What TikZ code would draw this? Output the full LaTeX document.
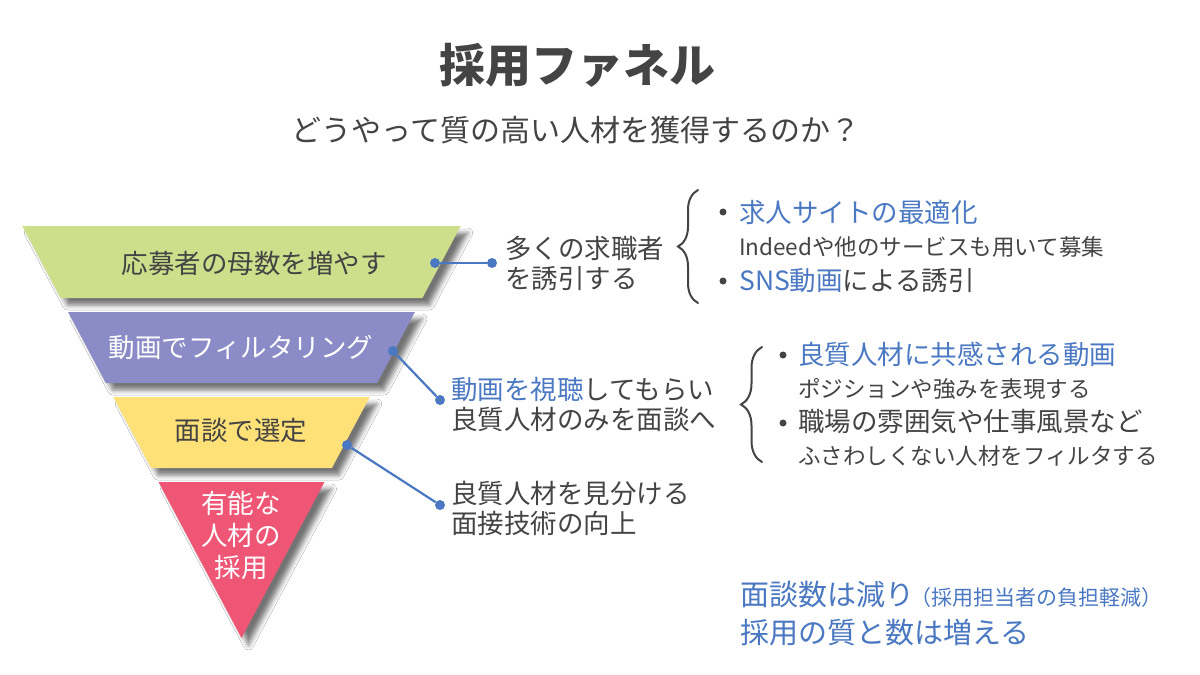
\documentclass[tikz,border=0pt]{standalone}
\usepackage{fontspec}
\setmainfont{Noto Sans CJK JP}
\usetikzlibrary{shadows.blur,decorations.pathreplacing}
\definecolor{textgray}{HTML}{444444}
\definecolor{accent}{HTML}{4A78C2}
\definecolor{layerA}{HTML}{CEDF8C}
\definecolor{layerB}{HTML}{8B8CC7}
\definecolor{layerC}{HTML}{FFE177}
\definecolor{layerD}{HTML}{EF5675}

\begin{document}
\begin{tikzpicture}[x=1pt, y=-1pt,
    layer/.style={blur shadow={shadow xshift=7pt, shadow yshift=-7pt,
        shadow blur radius=5pt, shadow opacity=55}},
    layertext/.style={inner sep=0, text=textgray,
        font=\fontsize{26.5}{32}\selectfont},
    body/.style={inner sep=0, anchor=west, align=left, text=textgray,
        font=\fontsize{26.5}{30}\selectfont},
    head/.style={inner sep=0, anchor=west, text=textgray,
        font=\fontsize{26.5}{30}\selectfont},
    sub/.style={inner sep=0, anchor=west, text=textgray,
        font=\fontsize{22.5}{26}\selectfont},
    bul/.style={circle, fill=textgray, inner sep=0, minimum size=7pt},
    dot/.style={circle, fill=accent, inner sep=0, minimum size=10pt},
    link/.style={draw=accent, line width=2.2pt},
    brc/.style={draw=textgray, line width=2pt, line cap=round,
        decorate, decoration={brace, amplitude=#1}}]
        \fill[white] (0,0) rectangle (1200,675);
        \useasboundingbox (0,0) rectangle (1200,675);

        \node[text=textgray, font=\fontsize{46}{50}\selectfont\bfseries]
          (title) at (577,65) {採用ファネル};
        \node[text=textgray, font=\fontsize{30}{34}\selectfont]
          (subtitle) at (576,130) {どうやって質の高い人材を獲得するのか？};

        \fill[layerA, layer] (22.3,226) -- (460.7,226) -- (422.4,298)
        -- (60.6,298) -- cycle;
        \fill[layerB, layer] (68.1,312) -- (414.9,312) -- (377.2,383)
        -- (105.8,383) -- cycle;
        \fill[layerC, layer] (113.3,397) -- (369.7,397) -- (331.9,468)
        -- (151.1,468) -- cycle;
        \fill[layerD, layer] (158.5,482) -- (324.5,482) -- (241.5,638)
        -- cycle;

        \node[layertext] (l1) at (254,263) {応募者の母数を増やす};
        \node[layertext, text=white] (l2) at (241,347) {動画でフィルタリング};
        \node[layertext] (l3) at (241,430) {面談で選定};
        \node[layertext, text=white, align=center] (l4) at (241,535)
          {有能な\\人材の\\採用};

        \node[dot] (d1a) at (435,263) {};
        \node[dot] (d1b) at (492,263) {};
        \node[dot] (d2a) at (393,351) {};
        \node[dot] (d2b) at (440,400) {};
        \node[dot] (d3a) at (347,445) {};
        \node[dot] (d3b) at (440,505) {};
        \draw[link] (d1a) -- (d1b);
        \draw[link] (d2a) -- (d2b);
        \draw[link] (d3a) -- (d3b);

        \node[body] (t1) at (505,263) {多くの求職者\\を誘引する};
        \node[body] (t2) at (451,404)
          {\textcolor{accent}{動画を視聴}してもらい\\良質人材のみを面談へ};
        \node[body] (t3) at (451,508) {良質人材を見分ける\\面接技術の向上};

        \draw[brc=20pt] (698,303) -- (698,190);
        \node[head] (h1) at (739,212) {\textcolor{accent}{求人サイトの最適化}};
        \node[sub] (s1) at (739,247) {Indeedや他のサービスも用いて募集};
        \node[head] (h2) at (739,281)
          {\textcolor{accent}{SNS動画}による誘引};
        \node[bul] (b1) at (723,212) {};
        \node[bul] (b2) at (723,281) {};

        \draw[brc=21pt] (762,462) -- (762,347);
        \node[head] (h3) at (798,354)
          {\textcolor{accent}{良質人材に共感される動画}};
        \node[sub] (s3) at (798,389) {ポジションや強みを表現する};
        \node[head] (h4) at (798,422) {職場の雰囲気や仕事風景など};
        \node[sub] (s4) at (798,456) {ふさわしくない人材をフィルタする};
        \node[bul] (b3) at (783,355) {};
        \node[bul] (b4) at (783,423) {};

        \node[body, text=accent, font=\fontsize{29}{38}\selectfont]
          (summary) at (740,614) {面談数は減り\hspace{-4pt}{\fontsize{21}{24}\selectfont
          （採用担当者の負担軽減）}\\採用の質と数は増える};
\end{tikzpicture}
\end{document}
